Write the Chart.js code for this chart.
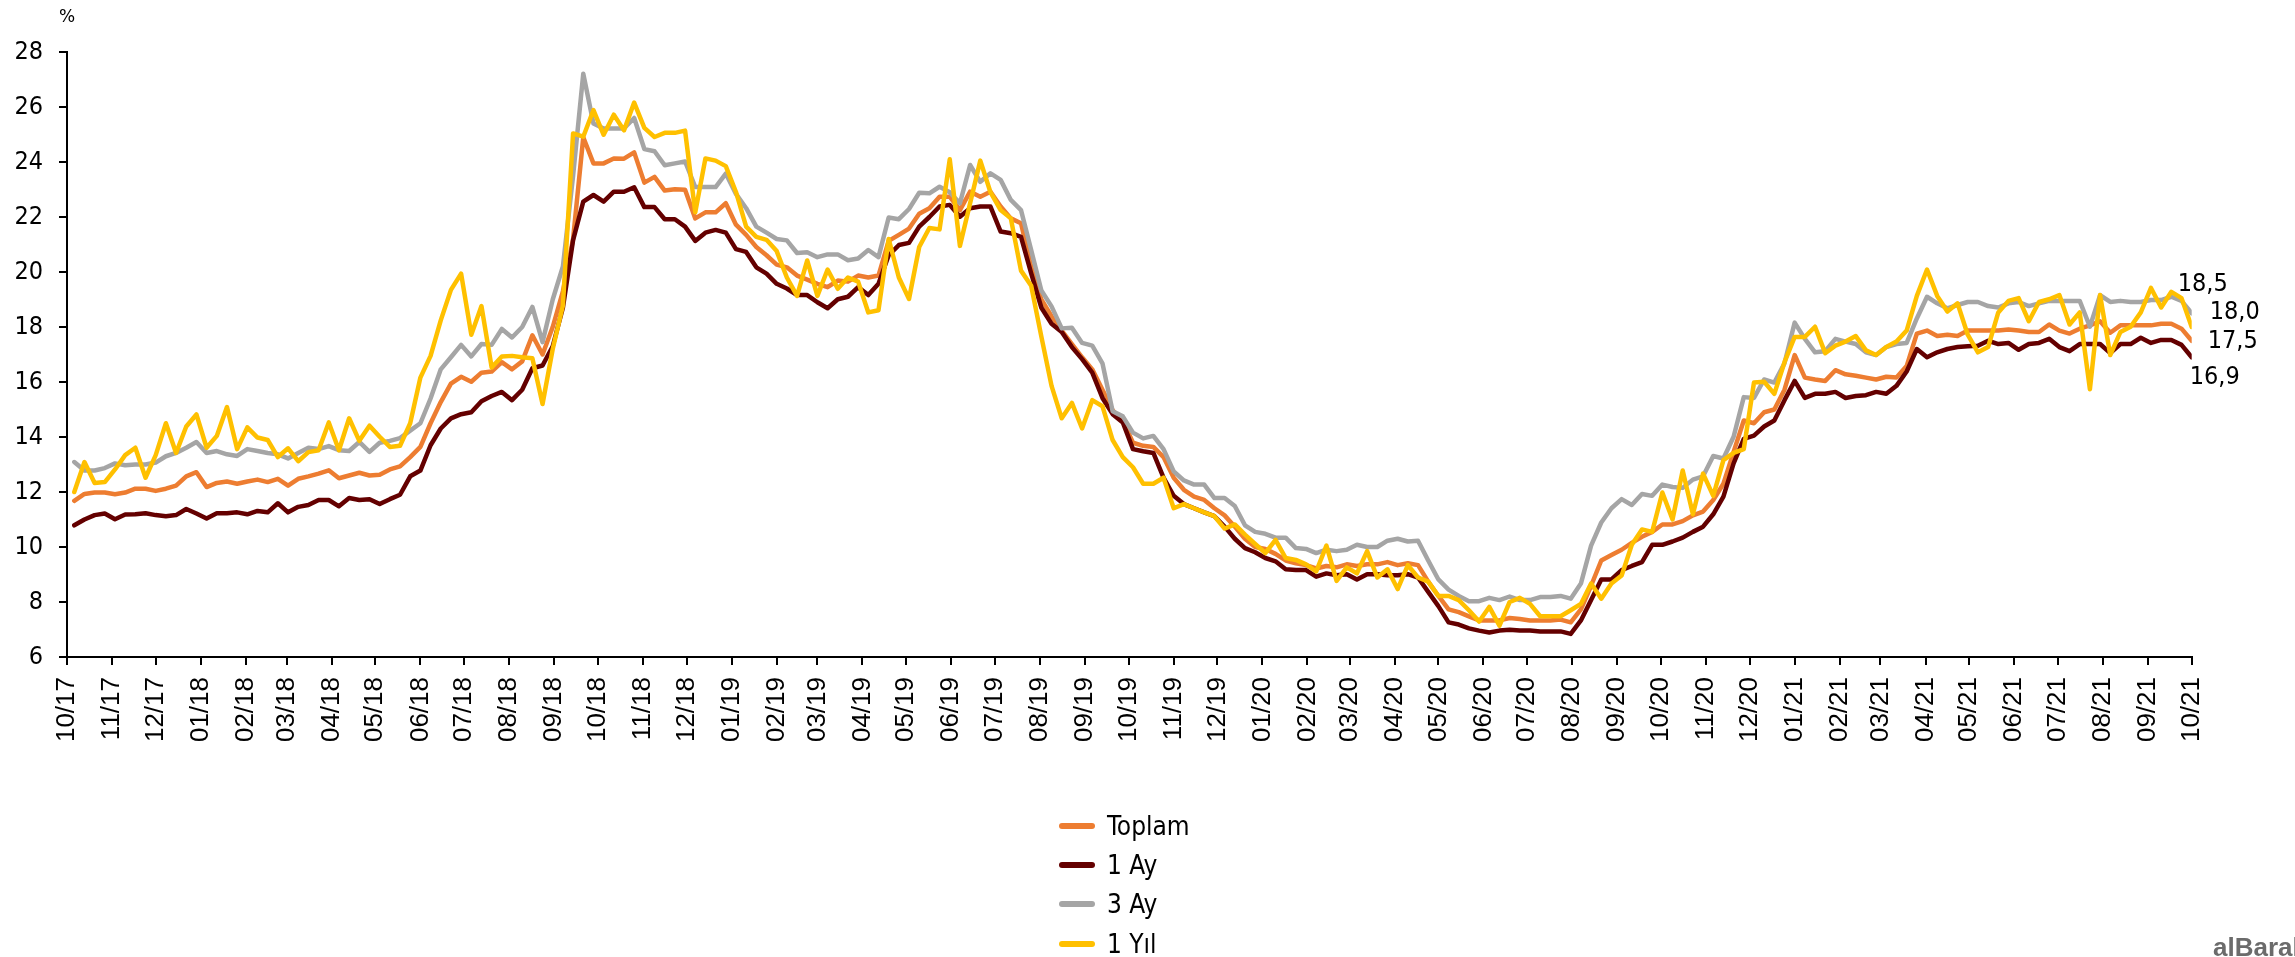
<!DOCTYPE html>
<html>
<head>
<meta charset="utf-8">
<script src="https://cdn.jsdelivr.net/npm/chart.js@4/dist/chart.umd.min.js"></script>
<style>
  html, body { margin: 0; padding: 0; background: #fff; overflow: hidden; }
  #wrap { position: relative; width: 2295px; height: 957px; }
  #legend { position: absolute; left: 1059px; top: 806px; }
  .legend-row { display: flex; align-items: center; height: 39.3px; }
  .legend-swatch { width: 36px; height: 6px; border-radius: 3px; margin-right: 12px; }
  .legend-text { font: 26px "DejaVu Sans Condensed", "DejaVu Sans", sans-serif; color: #000; line-height: 1; }
  #logo { position: absolute; left: 2213px; top: 934px; font: bold 26px "Liberation Sans", Arial, sans-serif; color: #6b6b6b; white-space: nowrap; line-height: 1; }
</style>
</head>
<body>
<div id="wrap">
  <canvas id="rates-chart" width="2295" height="957"></canvas>
  <div id="legend"></div>
  <div id="logo">alBaraka</div>
</div>
<script>
// Weekly deposit rates, first observation 06.10.2017, last 01.10.2021
const axisStart = Date.UTC(2017, 9, 1);
const firstObs = Date.UTC(2017, 9, 6);
const weekCount = 209;

const monthLabels = [
  "10/17", "11/17", "12/17",
  "01/18", "02/18", "03/18", "04/18", "05/18", "06/18", "07/18", "08/18", "09/18", "10/18", "11/18", "12/18",
  "01/19", "02/19", "03/19", "04/19", "05/19", "06/19", "07/19", "08/19", "09/19", "10/19", "11/19", "12/19",
  "01/20", "02/20", "03/20", "04/20", "05/20", "06/20", "07/20", "08/20", "09/20", "10/20", "11/20", "12/20",
  "01/21", "02/21", "03/21", "04/21", "05/21", "06/21", "07/21", "08/21", "09/21", "10/21"
];

const seriesNames = ["Toplam", "1 Ay", "3 Ay", "1 Yıl"];

const toplam = [
  11.68, 11.93, 11.98, 11.98, 11.92, 11.98, 12.12, 12.12, 12.04, 12.12, 12.23, 12.57, 12.72, 12.18, 12.33, 12.38, 12.30, 12.38, 12.45, 12.36,
  12.48, 12.23, 12.48, 12.57, 12.67, 12.79, 12.50, 12.60, 12.70, 12.60, 12.63, 12.82, 12.93, 13.27, 13.64, 14.50, 15.27, 15.94, 16.19, 16.01,
  16.34, 16.38, 16.72, 16.46, 16.75, 17.70, 17.00, 18.00, 19.30, 21.20, 24.90, 23.95, 23.95, 24.13, 24.12, 24.35, 23.25, 23.46, 22.96, 23.01,
  22.99, 21.95, 22.17, 22.17, 22.50, 21.72, 21.35, 20.91, 20.61, 20.27, 20.17, 19.87, 19.72, 19.57, 19.45, 19.69, 19.65, 19.87, 19.80, 19.87,
  21.13, 21.35, 21.58, 22.12, 22.32, 22.74, 22.74, 22.25, 22.92, 22.74, 22.92, 22.38, 21.95, 21.77, 20.19, 19.00, 18.39, 17.87, 17.38, 16.90,
  16.46, 15.72, 14.97, 14.60, 13.79, 13.68, 13.64, 13.27, 12.52, 12.08, 11.83, 11.71, 11.41, 11.15, 10.74, 10.30, 10.00, 9.93, 9.75, 9.51,
  9.41, 9.34, 9.22, 9.31, 9.26, 9.37, 9.31, 9.37, 9.37, 9.45, 9.34, 9.41, 9.34, 8.74, 8.22, 7.73, 7.63, 7.48, 7.33, 7.33,
  7.33, 7.42, 7.38, 7.33, 7.33, 7.33, 7.36, 7.26, 7.73, 8.59, 9.51, 9.71, 9.90, 10.15, 10.37, 10.55, 10.82, 10.82, 10.94, 11.15,
  11.29, 11.71, 12.30, 13.46, 14.60, 14.50, 14.90, 15.00, 15.72, 16.98, 16.16, 16.09, 16.04, 16.43, 16.28, 16.23, 16.16, 16.09, 16.19, 16.16,
  16.58, 17.76, 17.87, 17.67, 17.72, 17.67, 17.87, 17.87, 17.87, 17.87, 17.91, 17.87, 17.82, 17.82, 18.09, 17.87, 17.76, 17.94, 18.06, 18.21,
  17.79, 18.06, 18.06, 18.06, 18.06, 18.12, 18.12, 17.94, 17.50
];

const birAy = [
  10.79, 11.00, 11.16, 11.22, 11.01, 11.18, 11.19, 11.23, 11.16, 11.12, 11.16, 11.38, 11.22, 11.04, 11.23, 11.23, 11.26, 11.19, 11.31, 11.26,
  11.59, 11.26, 11.46, 11.53, 11.71, 11.71, 11.48, 11.78, 11.71, 11.74, 11.56, 11.74, 11.90, 12.57, 12.78, 13.70, 14.31, 14.68, 14.83, 14.90,
  15.30, 15.49, 15.64, 15.34, 15.72, 16.50, 16.60, 17.30, 18.70, 21.16, 22.56, 22.80, 22.56, 22.92, 22.92, 23.08, 22.36, 22.36, 21.92, 21.92,
  21.65, 21.13, 21.43, 21.53, 21.43, 20.83, 20.73, 20.17, 19.94, 19.57, 19.40, 19.16, 19.16, 18.90, 18.68, 19.01, 19.10, 19.45, 19.16, 19.57,
  20.61, 20.98, 21.06, 21.65, 22.00, 22.38, 22.44, 22.01, 22.32, 22.38, 22.38, 21.47, 21.41, 21.28, 19.95, 18.70, 18.12, 17.82, 17.27, 16.83,
  16.34, 15.42, 14.83, 14.53, 13.56, 13.48, 13.42, 12.52, 11.86, 11.56, 11.41, 11.26, 11.12, 10.74, 10.30, 9.96, 9.81, 9.60, 9.48, 9.19,
  9.16, 9.16, 8.92, 9.04, 8.97, 9.01, 8.82, 9.01, 9.01, 8.97, 8.97, 9.01, 8.89, 8.37, 7.85, 7.26, 7.18, 7.04, 6.96, 6.89,
  6.96, 6.99, 6.96, 6.96, 6.93, 6.93, 6.93, 6.84, 7.33, 8.07, 8.82, 8.82, 9.16, 9.31, 9.45, 10.08, 10.08, 10.20, 10.34, 10.55,
  10.74, 11.19, 11.83, 13.04, 13.93, 14.05, 14.38, 14.60, 15.34, 16.04, 15.42, 15.57, 15.57, 15.64, 15.42, 15.49, 15.52, 15.64, 15.57, 15.86,
  16.38, 17.20, 16.90, 17.08, 17.20, 17.27, 17.30, 17.32, 17.50, 17.38, 17.42, 17.17, 17.38, 17.42, 17.57, 17.27, 17.12, 17.38, 17.38, 17.38,
  17.05, 17.38, 17.38, 17.61, 17.42, 17.53, 17.53, 17.35, 16.90
];

const ucAy = [
  13.09, 12.78, 12.78, 12.87, 13.04, 12.97, 13.00, 13.00, 13.07, 13.30, 13.42, 13.61, 13.82, 13.42, 13.49, 13.37, 13.31, 13.56, 13.49, 13.42,
  13.37, 13.22, 13.42, 13.61, 13.56, 13.67, 13.52, 13.49, 13.82, 13.46, 13.79, 13.86, 13.96, 14.23, 14.50, 15.40, 16.46, 16.90, 17.35, 16.93,
  17.38, 17.35, 17.93, 17.62, 18.00, 18.73, 17.45, 19.00, 20.20, 23.50, 27.21, 25.40, 25.22, 25.22, 25.22, 25.60, 24.47, 24.39, 23.88, 23.95,
  24.02, 23.09, 23.09, 23.09, 23.58, 22.84, 22.32, 21.65, 21.43, 21.20, 21.15, 20.69, 20.72, 20.54, 20.64, 20.64, 20.43, 20.49, 20.80, 20.54,
  21.98, 21.92, 22.29, 22.88, 22.86, 23.10, 22.90, 22.50, 23.89, 23.28, 23.59, 23.35, 22.62, 22.25, 20.80, 19.33, 18.75, 17.95, 17.97, 17.42,
  17.32, 16.68, 14.94, 14.75, 14.16, 13.95, 14.04, 13.56, 12.75, 12.42, 12.27, 12.27, 11.78, 11.78, 11.49, 10.79, 10.55, 10.48, 10.34, 10.34,
  9.96, 9.93, 9.78, 9.90, 9.85, 9.90, 10.08, 10.00, 10.00, 10.23, 10.30, 10.20, 10.23, 9.51, 8.82, 8.45, 8.22, 8.03, 8.03, 8.15,
  8.07, 8.20, 8.07, 8.07, 8.18, 8.18, 8.22, 8.12, 8.67, 10.05, 10.89, 11.41, 11.74, 11.53, 11.93, 11.86, 12.27, 12.18, 12.15, 12.45,
  12.57, 13.31, 13.22, 14.01, 15.45, 15.42, 16.09, 15.98, 16.68, 18.16, 17.57, 17.08, 17.12, 17.57, 17.47, 17.38, 17.08, 16.98, 17.27, 17.38,
  17.42, 18.31, 19.10, 18.86, 18.68, 18.80, 18.91, 18.91, 18.76, 18.71, 18.86, 18.91, 18.76, 18.86, 18.95, 18.95, 18.95, 18.95, 18.01, 19.16,
  18.91, 18.95, 18.91, 18.91, 18.98, 18.98, 19.10, 18.95, 18.50
];

const birYil = [
  12.00, 13.09, 12.33, 12.36, 12.82, 13.34, 13.61, 12.52, 13.34, 14.50, 13.42, 14.38, 14.82, 13.61, 14.04, 15.09, 13.56, 14.35, 13.98, 13.89,
  13.27, 13.59, 13.12, 13.45, 13.52, 14.53, 13.52, 14.68, 13.86, 14.41, 14.01, 13.64, 13.68, 14.50, 16.16, 16.95, 18.24, 19.35, 19.94, 17.72,
  18.76, 16.53, 16.93, 16.95, 16.90, 16.86, 15.20, 17.20, 18.78, 25.04, 24.92, 25.89, 24.99, 25.72, 25.15, 26.16, 25.24, 24.91, 25.06, 25.06,
  25.14, 22.17, 24.13, 24.05, 23.85, 22.91, 21.65, 21.28, 21.17, 20.76, 19.80, 19.13, 20.42, 19.13, 20.09, 19.39, 19.80, 19.65, 18.53, 18.61,
  21.20, 19.80, 19.02, 20.91, 21.60, 21.55, 24.10, 20.95, 22.50, 24.05, 22.90, 22.25, 21.95, 20.05, 19.50, 17.65, 15.86, 14.68, 15.24, 14.31,
  15.34, 15.12, 13.89, 13.27, 12.90, 12.30, 12.30, 12.52, 11.41, 11.56, 11.41, 11.26, 11.12, 10.67, 10.82, 10.45, 10.11, 9.78, 10.26, 9.60,
  9.53, 9.37, 9.11, 10.05, 8.77, 9.26, 9.04, 9.85, 8.89, 9.19, 8.47, 9.34, 8.89, 8.74, 8.22, 8.22, 8.07, 7.70, 7.29, 7.82,
  7.14, 8.00, 8.15, 7.93, 7.48, 7.48, 7.48, 7.70, 7.93, 8.67, 8.12, 8.67, 8.96, 10.08, 10.64, 10.55, 11.98, 11.00, 12.78, 11.19,
  12.67, 11.86, 13.16, 13.42, 13.56, 15.98, 16.01, 15.57, 16.72, 17.64, 17.64, 18.01, 17.05, 17.32, 17.47, 17.67, 17.15, 16.98, 17.27, 17.47,
  17.87, 19.13, 20.09, 19.13, 18.56, 18.86, 17.72, 17.08, 17.27, 18.53, 18.95, 19.05, 18.21, 18.91, 19.01, 19.16, 18.09, 18.53, 15.74, 19.16,
  16.98, 17.82, 18.01, 18.53, 19.42, 18.71, 19.28, 19.05, 18.00
];

// styling, kept apart from the values
const lineColors = ["#ED7D31", "#640000", "#A5A5A5", "#FFC000"];
const drawOrder = [4, 3, 2, 1];               // last series on top, like the original
const endLabelOffsets = [[16, 1], [-2, 20], [-14, -29], [18, -15]];
const DAY = 24 * 3600 * 1000;

const obsDays = [];
for (let i = 0; i < weekCount; i++) {
  obsDays.push((firstObs - axisStart) / DAY + 7 * i);
}

const monthTickDays = monthLabels.map(label => {
  const [mm, yy] = label.split("/").map(Number);
  return (Date.UTC(2000 + yy, mm - 1, 1) - axisStart) / DAY;
});

const seriesValues = [toplam, birAy, ucAy, birYil];

const datasets = seriesNames.map((name, i) => ({
  label: name,
  data: seriesValues[i].map((v, k) => ({ x: obsDays[k], y: v })),
  borderColor: lineColors[i],
  backgroundColor: lineColors[i],
  borderWidth: 4.5,
  pointRadius: 0,
  pointHoverRadius: 0,
  tension: 0,
  borderJoinStyle: "round",
  borderCapStyle: "round",
  order: drawOrder[i]
}));

const tickFont = { family: "'DejaVu Sans Condensed', 'DejaVu Sans', sans-serif", size: 25 };

const endLabels = {
  id: "endLabels",
  afterDatasetsDraw(chart) {
    const { ctx, scales: { x, y } } = chart;
    ctx.save();
    ctx.fillStyle = "#000";
    ctx.font = "25px 'DejaVu Sans Condensed', 'DejaVu Sans', sans-serif";
    ctx.textAlign = "left";
    ctx.textBaseline = "middle";
    chart.data.datasets.forEach((ds, i) => {
      const last = ds.data[ds.data.length - 1];
      const px = x.getPixelForValue(last.x) + endLabelOffsets[i][0];
      const py = y.getPixelForValue(last.y) + endLabelOffsets[i][1];
      ctx.fillText(last.y.toFixed(1).replace(".", ","), px, py);
    });
    ctx.font = "17px 'DejaVu Sans', sans-serif";
    ctx.textAlign = "center";
    ctx.fillText("%", y.right, y.top - 34);
    ctx.restore();
  }
};

new Chart(document.getElementById("rates-chart").getContext("2d"), {
  type: "line",
  data: { datasets },
  options: {
    responsive: false,
    animation: false,
    layout: { padding: { top: 52, right: 103.3, left: 0, bottom: 0 } },
    plugins: {
      legend: { display: false },
      tooltip: { enabled: false }
    },
    scales: {
      x: {
        type: "linear",
        min: 0,
        max: monthTickDays[monthTickDays.length - 1],
        afterBuildTicks: scale => {
          scale.ticks = monthTickDays.map(v => ({ value: v }));
        },
        afterFit: scale => { scale.height = 300; },
        border: { color: "#000", width: 2 },
        grid: { drawOnChartArea: false, tickLength: 8, color: "#000", lineWidth: 2 },
        ticks: {
          autoSkip: false,
          minRotation: 90,
          maxRotation: 90,
          padding: 12,
          color: "#000",
          font: { family: "'Liberation Sans', Arial, sans-serif", size: 26 },
          callback: (value, index) => monthLabels[index]
        }
      },
      y: {
        min: 6,
        max: 28,
        afterFit: scale => { scale.width = 67; },
        border: { color: "#000", width: 2 },
        grid: { drawOnChartArea: false, tickLength: 8, color: "#000", lineWidth: 2 },
        ticks: { stepSize: 2, padding: 16, color: "#000", font: tickFont }
      }
    }
  },
  plugins: [endLabels]
});

// legend below the plot, one series per row
const legend = document.getElementById("legend");
seriesNames.forEach((name, i) => {
  const row = document.createElement("div");
  row.className = "legend-row";
  row.innerHTML = `<span class="legend-swatch" style="background:${lineColors[i]}"></span><span class="legend-text">${name}</span>`;
  legend.appendChild(row);
});
</script>
</body>
</html>
